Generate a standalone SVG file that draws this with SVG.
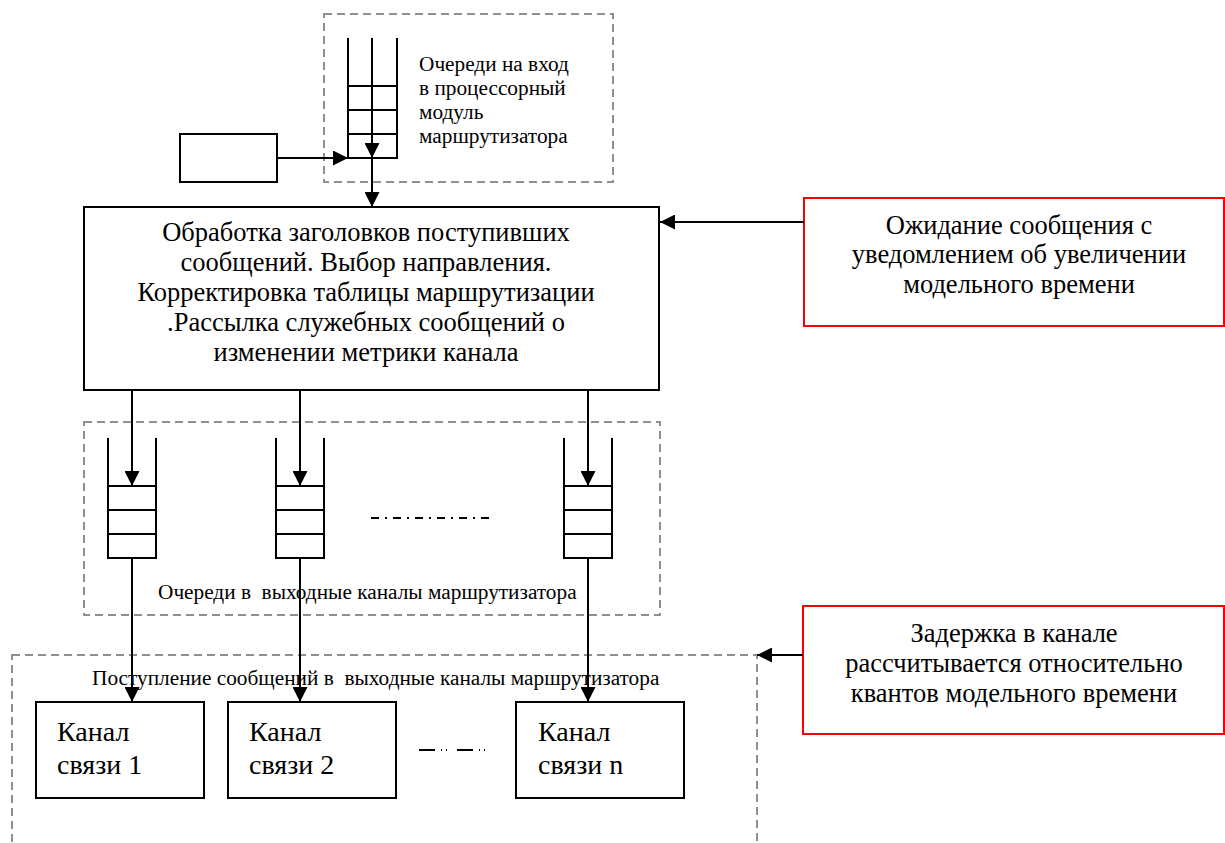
<svg xmlns="http://www.w3.org/2000/svg" width="1225" height="843" viewBox="0 0 1225 843">
<style>
.box{fill:#fff;stroke:#000;stroke-width:2}
.red{fill:#fff;stroke:#ff0000;stroke-width:2}
.dash{fill:none;stroke:#8f8f8f;stroke-width:2;stroke-dasharray:8 5}
.ln{fill:none;stroke:#000;stroke-width:2}
.q{fill:none;stroke:#000;stroke-width:2}
.t{font-family:"Liberation Serif","Times New Roman",serif;fill:#000}
.big{font-size:26.5px;text-anchor:middle}
.sm{font-size:21.3px}
.ch{font-size:28px}
</style>
<defs>
<marker id="arr" markerUnits="userSpaceOnUse" markerWidth="15" markerHeight="15" refX="15" refY="7.5" orient="auto">
<path d="M0,0 L15,7.5 L0,15 z" fill="#000"/>
</marker>
</defs>
<rect width="1225" height="843" fill="#fff"/>

<g id="input-queue-group">
<rect class="dash" x="324" y="14" width="289" height="168"/>
<path class="q" d="M348,38 V158 H397 V38 M348,86 H397 M348,110 H397 M348,134 H397"/>
<text class="t sm" x="419" y="71">Очереди на вход</text>
<text class="t sm" x="419" y="95">в процессорный</text>
<text class="t sm" x="419" y="119">модуль</text>
<text class="t sm" x="419" y="143">маршрутизатора</text>
</g>

<g id="source">
<rect class="box" x="180" y="134" width="97" height="48"/>
</g>

<g id="processor">
<rect class="box" x="84" y="207" width="575" height="183"/>
<text class="t big" x="366" y="241">Обработка заголовков поступивших</text>
<text class="t big" x="366" y="271">сообщений. Выбор направления.</text>
<text class="t big" x="366" y="301">Корректировка таблицы маршрутизации</text>
<text class="t big" x="366" y="331">.Рассылка служебных сообщений о</text>
<text class="t big" x="366" y="361">изменении метрики канала</text>
</g>

<g id="wait-note">
<rect class="red" x="804" y="198" width="420" height="128"/>
<text class="t big" x="1019" y="234">Ожидание сообщения с</text>
<text class="t big" x="1019" y="263">уведомлением об увеличении</text>
<text class="t big" x="1019" y="293">модельного времени</text>
</g>

<g id="output-queues">
<rect class="dash" x="84" y="422" width="576" height="193"/>
<path class="q" d="M108,438 V558 H156 V438 M108,486 H156 M108,510 H156 M108,534 H156"/>
<path class="q" d="M276,438 V558 H324 V438 M276,486 H324 M276,510 H324 M276,534 H324"/>
<path class="q" d="M564,438 V558 H612 V438 M564,486 H612 M564,510 H612 M564,534 H612"/>
<line x1="371" y1="518" x2="489" y2="518" stroke="#000" stroke-width="2" stroke-dasharray="8 6 2 6"/>
<text class="t sm" x="158" y="599" xml:space="preserve">Очереди в  выходные каналы маршрутизатора</text>
</g>

<g id="channels">
<rect class="dash" x="12" y="655" width="745" height="200"/>
<text class="t sm" x="92" y="685" xml:space="preserve">Поступление сообщений в  выходные каналы маршрутизатора</text>
</g>

<g id="channel-1">
<rect class="box" x="36" y="702" width="168" height="96"/>
<text class="t ch" x="57" y="741">Канал</text>
<text class="t ch" x="57" y="774">связи 1</text>
</g>
<g id="channel-2">
<rect class="box" x="228" y="702" width="168" height="96"/>
<text class="t ch" x="249" y="741">Канал</text>
<text class="t ch" x="249" y="774">связи 2</text>
</g>
<g id="channel-n">
<rect class="box" x="516" y="702" width="168" height="96"/>
<text class="t ch" x="538" y="741">Канал</text>
<text class="t ch" x="538" y="774">связи n</text>
</g>
<line x1="419" y1="750" x2="489" y2="750" stroke="#000" stroke-width="2" stroke-dasharray="16 6 1 4 1 10"/>

<g id="delay-note">
<rect class="red" x="803" y="606" width="421" height="128"/>
<text class="t big" x="1014" y="642">Задержка в канале</text>
<text class="t big" x="1014" y="672">рассчитывается относительно</text>
<text class="t big" x="1014" y="702">квантов модельного времени</text>
</g>

<g id="connectors">
<path class="ln" d="M277,158 H348" marker-end="url(#arr)"/>
<path class="ln" d="M372,38 V158" marker-end="url(#arr)"/>
<path class="ln" d="M372,158 V207" marker-end="url(#arr)"/>
<path class="ln" d="M804,222 H660" marker-end="url(#arr)"/>
<path class="ln" d="M803,655 H757" marker-end="url(#arr)"/>
<path class="ln" d="M132,390 V486" marker-end="url(#arr)"/>
<path class="ln" d="M300,390 V486" marker-end="url(#arr)"/>
<path class="ln" d="M588,390 V486" marker-end="url(#arr)"/>
<path class="ln" d="M132,558 V702" marker-end="url(#arr)"/>
<path class="ln" d="M300,558 V702" marker-end="url(#arr)"/>
<path class="ln" d="M588,558 V702" marker-end="url(#arr)"/>
</g>
</svg>
